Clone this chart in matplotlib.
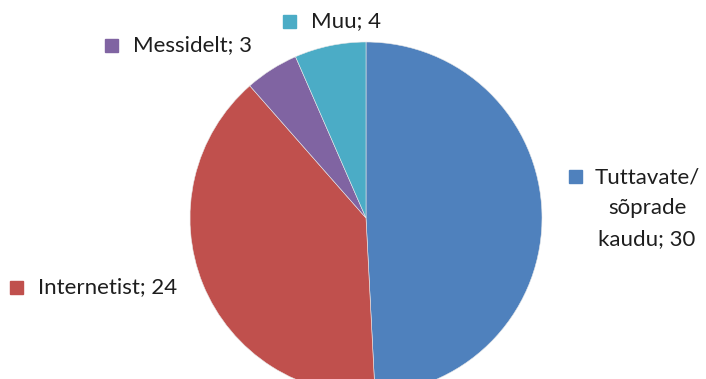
import matplotlib
matplotlib.use("Agg")
import matplotlib.pyplot as plt
from matplotlib.patches import Rectangle

labels = ["Tuttavate/\nsõprade\nkaudu", "Internetist", "Messidelt", "Muu"]
values = [30, 24, 3, 4]
colors = ["#4F81BD", "#C0504D", "#8064A2", "#4BACC6"]

# where each legend-style label sits (left edge of the marker, vertical centre)
label_pos = [(569, 208), (10, 287), (105, 45), (283, 21)]

W, H = 706, 379
fig = plt.figure(figsize=(W / 100, H / 100), dpi=100)
ax = fig.add_axes([0, 0, 1, 1])

ax.pie(values, colors=colors, startangle=90, counterclock=False,
       center=(366, H - 218), radius=176,
       wedgeprops={"linewidth": 0.4, "edgecolor": "#e8e8e8"}, frame=True)
ax.set_xlim(0, W)
ax.set_ylim(0, H)
ax.set_aspect("equal")
ax.axis("off")

font = "Lato"
fs = 16
for lab, val, col, (x, y) in zip(labels, values, colors, label_pos):
    yc = H - y
    if "\n" in lab:
        # multi line label: marker next to first line, text centred
        lines = (lab + "; " + str(val)).split("\n")
        ax.add_patch(Rectangle((x, H - 183), 13, 13, color=col))
        for i, line in enumerate(lines):
            ax.text(647, H - (177 + i * 31), line, fontsize=fs, family=font,
                    color="#1e1e1e", ha="center", va="center")
    else:
        ax.add_patch(Rectangle((x, yc - 6.5), 13, 13, color=col))
        ax.text(x + 28, yc, f"{lab}; {val}", fontsize=fs, family=font,
                color="#1e1e1e", ha="left", va="center")

fig.savefig("out.png", dpi=100)
